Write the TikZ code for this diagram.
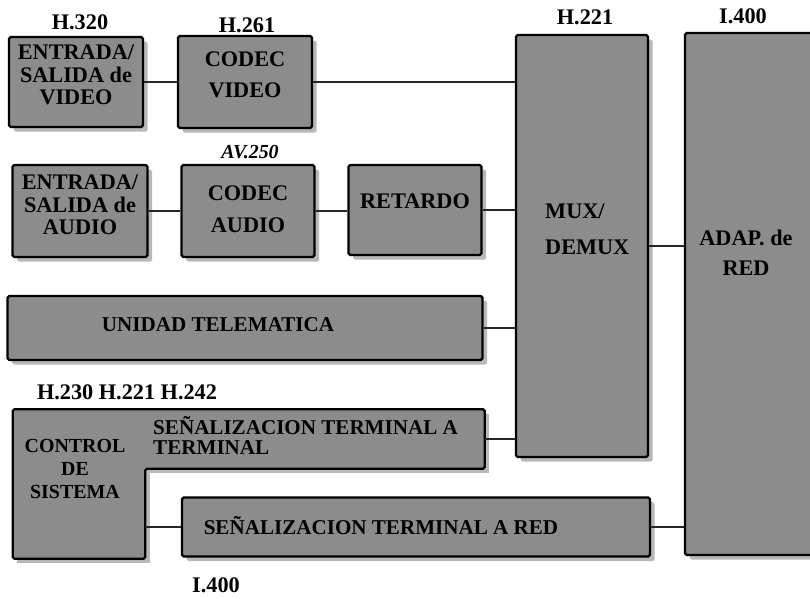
\documentclass[tikz,border=0pt]{standalone}
\usepackage{fontspec}
\setmainfont{Liberation Serif}
\usetikzlibrary{shadows,backgrounds}

\begin{document}
\begin{tikzpicture}[x=0.03cm,y=-0.03cm,
  every node/.style={font=\bfseries\fontsize{19}{19}\selectfont,inner sep=0pt},
  sz/.style 2 args={minimum width=#1*0.03cm,minimum height=#2*0.03cm},
  blk/.style={draw,line width=2pt,fill=black!45,rounded corners=1.5pt,
    drop shadow={fill=black!28,shadow xshift=4pt,shadow yshift=-4pt,opacity=1}},
  flat/.style={fill=black!45},
  txt/.style={align=center},
  lng/.style={font=\bfseries\fontsize{18}{17}\selectfont},
  lnk/.style={line width=1.3pt,black!85}]
  \useasboundingbox (0,0) rectangle (810,599);
  % blocks
  \node[blk,sz={134}{90}] (ev) at (76,82) {};
  \node[blk,sz={134}{92}] (cv) at (245,82) {};
  \node[blk,sz={135}{92}] (ea) at (80,211) {};
  \node[blk,sz={133}{92}] (ca) at (248,211) {};
  \node[blk,sz={133}{90}] (ret) at (415,210) {};
  \node[blk,sz={132}{422}] (mux) at (582,246) {};
  \node[blk,sz={130}{522}] (adap) at (750,294) {};
  \node[blk,sz={475}{64}] (ut) at (245,328) {};
  \node[blk,sz={468}{59}] (str) at (416,527) {};
  \node[flat,sz={132}{149}] (ctrl) at (79,484) {};
  \node[flat,sz={349}{59}] (stt) at (310,439) {};
  \begin{scope}[on background layer]
    \fill[black!28] ([shift={(4pt,-4pt)}]ctrl.south west) rectangle ([shift={(4pt,-4pt)}]ctrl.north east);
    \fill[black!28] ([shift={(4pt,-4pt)}]stt.south west) rectangle ([shift={(4pt,-4pt)}]stt.north east);
  \end{scope}
  \draw[line width=2pt,rounded corners=1.5pt] (ctrl.south west) -- (ctrl.north west) -- (stt.north east)
    -- (stt.south east) -- (stt.south -| ctrl.east) -- (ctrl.south east) -- cycle;
  % texts in blocks
  \node[txt] (evt) at (76,75) {ENTRADA/\\SALIDA de\\VIDEO};
  \node[txt] (cvt) at (245,75) {CODEC\\[7pt]VIDEO};
  \node[txt] (eat) at (80,205) {ENTRADA/\\SALIDA de\\AUDIO};
  \node[txt] (cat) at (248,209) {CODEC\\[8pt]AUDIO};
  \node (rett) at (415,201) {RETARDO};
  \node[align=left,anchor=west] (muxt) at (545,229) {MUX/\\[12pt]DEMUX};
  \node[txt] (adapt) at (746,253) {ADAP. de\\[7pt]RED};
  \node[lng] (utt) at (218,325) {UNIDAD TELEMATICA};
  \node[lng,align=left,anchor=west] (sttt) at (153,435) {SEÑALIZACION TERMINAL A\\TERMINAL};
  \node[txt,font=\bfseries\fontsize{17}{20}\selectfont] (ctrlt) at (75,469) {CONTROL\\DE\\SISTEMA};
  \node[lng] (strt) at (381,526) {SEÑALIZACION TERMINAL A RED};
  % standards
  \node (h320) at (80,22) {H.320};
  \node (h261) at (247,25) {H.261};
  \node[font=\bfseries\itshape\fontsize{17}{17}\selectfont] (av250) at (250,152) {AV.250};
  \node (h221) at (585,17) {H.221};
  \node (i400) at (743,16) {I.400};
  \node (hsig) at (127,392) {H.230 H.221 H.242};
  \node (i400b) at (216,585) {I.400};
  % links
  \draw[lnk] (ev.east) -- (cv.west); \draw[lnk] (cv.east) -- (cv.east -| mux.west);
  \draw[lnk] (ea.east) -- (ca.west); \draw[lnk] (ca.east) -- (ca.east -| ret.west);
  \draw[lnk] (ret.east) -- (ret.east -| mux.west);
  \draw[lnk] (ut.east) -- (ut.east -| mux.west); \draw[lnk] (stt.east) -- (stt.east -| mux.west);
  \draw[lnk] (mux.east) -- (mux.east -| adap.west);
  \draw[lnk] (str.west -| ctrl.east) -- (str.west); \draw[lnk] (str.east) -- (str.east -| adap.west);
\end{tikzpicture}
\end{document}
